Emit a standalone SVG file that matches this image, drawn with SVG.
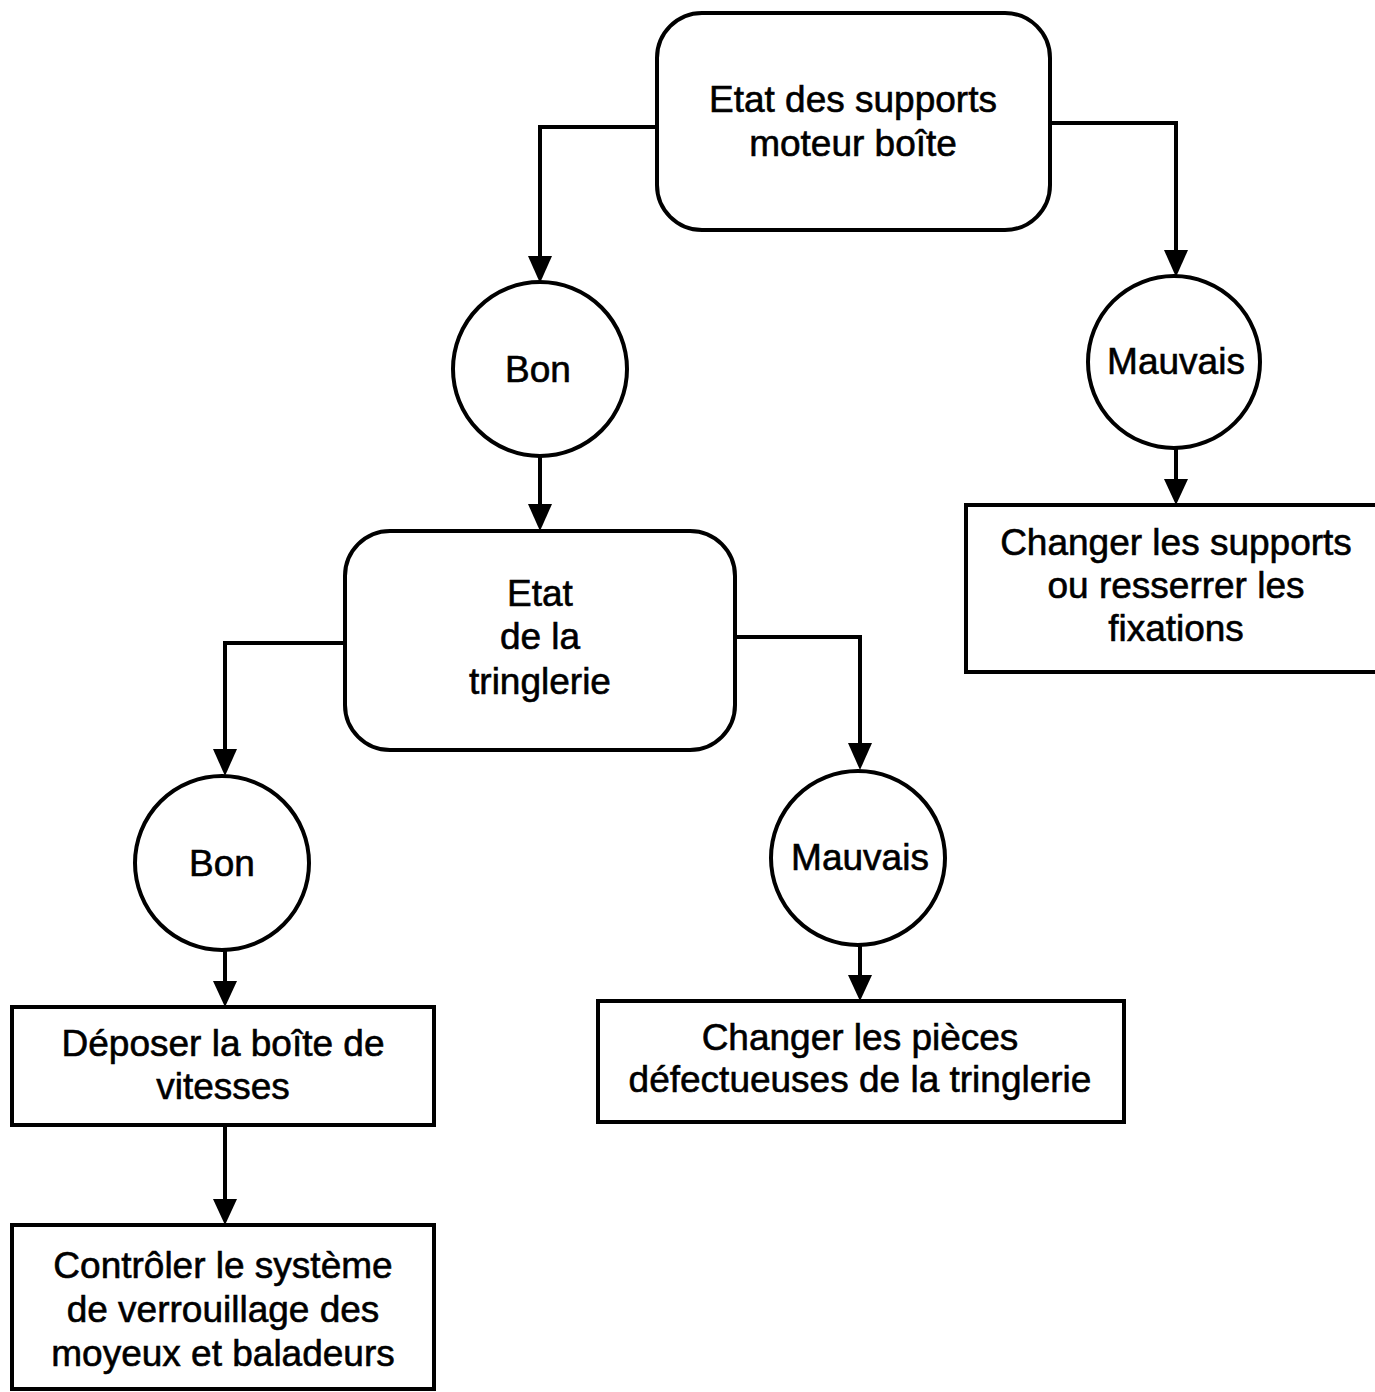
<svg xmlns="http://www.w3.org/2000/svg" width="1375" height="1392" viewBox="0 0 1375 1392">
<style>
.shape{fill:#fff;stroke:#000;stroke-width:4}
.t{font-family:"Liberation Sans",Arial,sans-serif;font-size:37px;fill:#000;stroke:#000;stroke-width:0.6;text-anchor:middle}
.c{fill:none;stroke:#000;stroke-width:4}
</style>
<rect width="1375" height="1392" fill="#fff"/>
<g id="connectors">
<path class="c" d="M657,127 H540 V258"/>
<path d="M528,256 L552,256 L540,283 z"/>
<path class="c" d="M1050,123 H1176 V252"/>
<path d="M1164,250 L1188,250 L1176,277 z"/>
<path class="c" d="M540,456 V505"/>
<path d="M528,504 L552,504 L540,531 z"/>
<path class="c" d="M1176,448 V480"/>
<path d="M1164,479 L1188,479 L1176,505 z"/>
<path class="c" d="M345,643 H225 V750"/>
<path d="M213,749 L237,749 L225,776 z"/>
<path class="c" d="M735,637 H860 V744"/>
<path d="M848,743 L872,743 L860,770 z"/>
<path class="c" d="M225,951 V982"/>
<path d="M213,981 L237,981 L225,1007 z"/>
<path class="c" d="M860,946 V976"/>
<path d="M848,975 L872,975 L860,1001 z"/>
<path class="c" d="M225,1125 V1200"/>
<path d="M213,1199 L237,1199 L225,1225 z"/>
</g>
<g id="n1">
<rect class="shape" x="657" y="13" width="393" height="217" rx="45"/>
<text class="t" x="853" y="112">Etat des supports</text>
<text class="t" x="853" y="156">moteur boîte</text>
</g>
<g id="n2">
<circle class="shape" cx="540" cy="369" r="87"/>
<text class="t" x="538" y="382">Bon</text>
</g>
<g id="n3">
<circle class="shape" cx="1174" cy="362" r="86"/>
<text class="t" x="1176" y="374">Mauvais</text>
</g>
<g id="n4">
<rect class="shape" x="966" y="505" width="411" height="167"/>
<text class="t" x="1176" y="555">Changer les supports</text>
<text class="t" x="1176" y="598">ou resserrer les</text>
<text class="t" x="1176" y="641">fixations</text>
</g>
<g id="n5">
<rect class="shape" x="345" y="531" width="390" height="219" rx="45"/>
<text class="t" x="540" y="606">Etat</text>
<text class="t" x="540" y="649">de la</text>
<text class="t" x="540" y="694">tringlerie</text>
</g>
<g id="n6">
<circle class="shape" cx="222" cy="863" r="87"/>
<text class="t" x="222" y="876">Bon</text>
</g>
<g id="n7">
<circle class="shape" cx="858" cy="858" r="87"/>
<text class="t" x="860" y="870">Mauvais</text>
</g>
<g id="n8">
<rect class="shape" x="12" y="1007" width="422" height="118"/>
<text class="t" x="223" y="1056">Déposer la boîte de</text>
<text class="t" x="223" y="1099">vitesses</text>
</g>
<g id="n9">
<rect class="shape" x="598" y="1001" width="526" height="121"/>
<text class="t" x="860" y="1050">Changer les pièces</text>
<text class="t" x="860" y="1092">défectueuses de la tringlerie</text>
</g>
<g id="n10">
<rect class="shape" x="12" y="1225" width="422" height="164"/>
<text class="t" x="223" y="1278">Contrôler le système</text>
<text class="t" x="223" y="1322">de verrouillage des</text>
<text class="t" x="223" y="1366">moyeux et baladeurs</text>
</g>
</svg>
